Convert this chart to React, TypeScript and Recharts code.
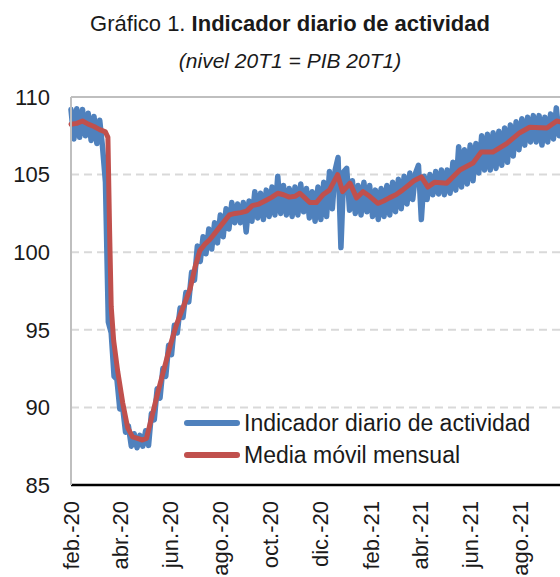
import { LineChart, Line, XAxis, YAxis, CartesianGrid, ReferenceLine, Legend } from "recharts";

const FONT = '"Liberation Sans", Arial, sans-serif';
const AZUL = "#4f81bd";
const ROJO = "#c0504d";

// ejes
const MESES = ["feb.-20", "abr.-20", "jun.-20", "ago.-20", "oct.-20", "dic.-20", "feb.-21", "abr.-21", "jun.-21", "ago.-21"];
const DIAS_MES = [0, 60, 121, 182, 243, 304, 366, 425, 486, 547]; // días desde 1-feb-2020
const Y_TICKS = [85, 90, 95, 100, 105, 110];

// indicador diario: dos lecturas por semana (día 7w y 7w+3.5)
const indicadorA = [
  109.2, 109.25, 109.2, 108.95, 108.75, 108.5, 104.5, 94.8, 91.8, 90.0,
  88.8, 88.3, 88.2, 88.5, 89.6, 91.2, 92.5, 94.0, 95.3, 96.4,
  97.4, 98.7, 100.4, 101.0, 101.5, 101.9, 102.4, 102.8, 103.2, 103.1,
  103.2, 103.3, 103.9, 103.8, 104.0, 104.2, 104.9, 104.3, 104.1, 104.2,
  104.4, 104.1, 103.9, 104.2, 104.5, 105.2, 105.3, 100.3, 105.4, 104.6,
  104.3, 104.5, 104.3, 104.0, 104.1, 104.3, 104.5, 104.7, 104.9, 105.1,
  105.1, 102.1, 103.4, 103.7, 103.75, 103.7, 103.8, 104.0, 104.2, 104.4,
  104.6, 105.1, 105.3, 105.3, 105.4, 105.6, 105.8, 106.2, 106.6, 106.9,
  107.1, 107.1, 106.9, 107.1, 107.3, 107.5,
];
const indicadorB = [
  107.3, 107.4, 107.5, 107.2, 107.0, 106.75, 95.5, 92.0, 89.9, 88.4,
  87.5, 87.4, 87.5, 87.55, 89.2, 90.6, 92.0, 93.4, 94.8, 95.8,
  96.8, 98.2, 99.4, 99.9, 100.2, 100.6, 101.0, 101.5, 101.9, 101.9,
  101.3, 102.0, 102.2, 102.1, 102.3, 102.4, 102.5, 102.4, 102.3, 102.4,
  102.6, 102.2, 102.0, 102.1, 102.3, 102.8, 106.1, 105.2, 102.7, 102.5,
  102.4, 102.6, 102.3, 102.1, 102.3, 102.4, 102.6, 102.8, 103.1, 103.4,
  105.6, 104.9, 105.0, 105.2, 105.3, 105.3, 105.8, 106.8, 106.6, 106.9,
  107.0, 107.5, 107.6, 107.7, 107.8, 108.0, 108.2, 108.4, 108.6, 108.7,
  108.8, 108.8, 108.7, 108.9, 109.3,
];

// media móvil mensual: [día, valor]
const mediaMovil: [number, number][] = [
  [0, 108.25], [7, 108.3], [14, 108.45], [21, 108.25], [28, 108.1], [35, 107.9], [42, 107.75],
  [45, 107.4], [47, 101.5], [49, 96.5], [52, 94.3], [57, 92.3], [63, 90.3], [69, 88.7],
  [75, 88.1], [81, 88.0], [87, 87.9], [92, 88.0], [99, 89.5], [106, 91.0], [114, 92.6],
  [121, 94.0], [129, 95.4], [137, 96.5], [145, 97.6], [151, 99.0], [157, 100.1], [163, 100.5],
  [169, 100.8], [175, 101.2], [181, 101.6], [187, 102.0], [193, 102.4], [200, 102.5], [207, 102.55],
  [214, 102.65], [221, 103.0], [229, 103.1], [238, 103.35], [245, 103.55], [252, 103.8], [259, 103.7],
  [266, 103.55], [273, 103.6], [279, 103.8], [285, 103.5], [291, 103.2], [299, 103.2], [307, 103.7],
  [315, 104.0], [320, 104.5], [325, 105.0], [331, 103.9], [336, 104.2], [340, 104.45], [348, 103.5],
  [356, 103.9], [364, 103.6], [374, 103.15], [381, 103.3], [388, 103.5], [396, 103.7], [404, 104.0],
  [411, 104.3], [418, 104.6], [427, 104.85], [435, 104.2], [443, 104.5], [458, 104.45], [474, 105.3],
  [490, 105.75], [500, 106.45], [514, 106.45], [531, 107.0], [547, 107.7], [559, 108.05], [580, 108.0],
  [592, 108.45], [596, 108.4],
];

const indicador = indicadorA.flatMap((v, i) => {
  const pts = [{ dia: i * 7, valor: v }];
  if (i < indicadorB.length) pts.push({ dia: i * 7 + 3.5, valor: indicadorB[i] });
  return pts;
});
const media = mediaMovil.map(([dia, valor]) => ({ dia, valor }));

const SERIES = [
  { name: "Indicador diario de actividad", color: AZUL },
  { name: "Media móvil mensual", color: ROJO },
];

const XTick = ({ x, y, payload }: any) => (
  <g transform={`translate(${x},${y})`}>
    <text transform="rotate(-90)" textAnchor="end" dy="0.36em" fontSize={22} fill="#1a1a1a" fontFamily={FONT}>
      {MESES[DIAS_MES.indexOf(payload.value)]}
    </text>
  </g>
);

const renderLegend = () => (
  <div style={{ fontFamily: FONT }}>
    {SERIES.map((s) => (
      <div key={s.name} style={{ display: "flex", alignItems: "center", height: 32 }}>
        <svg width={56} height={10}>
          <line x1={3} y1={5} x2={53} y2={5} stroke={s.color} strokeWidth={6} strokeLinecap="round" />
        </svg>
        <span style={{ fontSize: 23, marginLeft: 4, color: "#1a1a1a", whiteSpace: "nowrap" }}>{s.name}</span>
      </div>
    ))}
  </div>
);

export default function App() {
  return (
    <div style={{ position: "absolute", left: 0, top: 0, width: 560, height: 577, background: "#fff", fontFamily: FONT, overflow: "hidden" }}>
      <div style={{ position: "absolute", top: 11, left: 0, width: 580, textAlign: "center", fontSize: 22, lineHeight: "26px", color: "#1a1a1a", whiteSpace: "nowrap" }}>
        Gráfico 1. <b>Indicador diario de actividad</b>
      </div>
      <div style={{ position: "absolute", top: 49, left: 0, width: 580, textAlign: "center", fontSize: 21, lineHeight: "24px", fontStyle: "italic", color: "#1a1a1a", whiteSpace: "nowrap" }}>
        (nivel 20T1 = PIB 20T1)
      </div>
      <LineChart width={560} height={577} margin={{ top: 97, right: 0, bottom: 0, left: 0 }} style={{ position: "absolute", left: 0, top: 0 }}>
        <CartesianGrid vertical={false} stroke="#d9d9d9" strokeWidth={2} strokeDasharray="8 5" />
        <XAxis
          dataKey="dia"
          type="number"
          domain={[0, 596]}
          ticks={DIAS_MES}
          interval={0}
          height={92}
          tickLine={false}
          tickSize={0}
          tickMargin={16}
          tick={<XTick />}
          axisLine={{ stroke: "#000", strokeWidth: 2.5 }}
        />
        <YAxis
          domain={[85, 110]}
          ticks={Y_TICKS}
          width={71}
          tickLine={false}
          tickSize={0}
          tickMargin={21}
          axisLine={{ stroke: "#bfbfbf", strokeWidth: 2 }}
          tick={{ fontSize: 22, fill: "#1a1a1a", fontFamily: FONT }}
        />
        <ReferenceLine y={110} stroke="#bfbfbf" strokeWidth={2} />
        <Line data={indicador} dataKey="valor" name={SERIES[0].name} stroke={AZUL} strokeWidth={5.5} dot={false} strokeLinejoin="round" strokeLinecap="round" isAnimationActive={false} />
        <Line data={media} dataKey="valor" name={SERIES[1].name} stroke={ROJO} strokeWidth={5} dot={false} strokeLinejoin="round" strokeLinecap="round" isAnimationActive={false} />
        <Legend layout="horizontal" verticalAlign="middle" align="center" content={renderLegend} wrapperStyle={{ position: "absolute", left: 184, top: 407, width: 380, height: 64 }} />
      </LineChart>
    </div>
  );
}
